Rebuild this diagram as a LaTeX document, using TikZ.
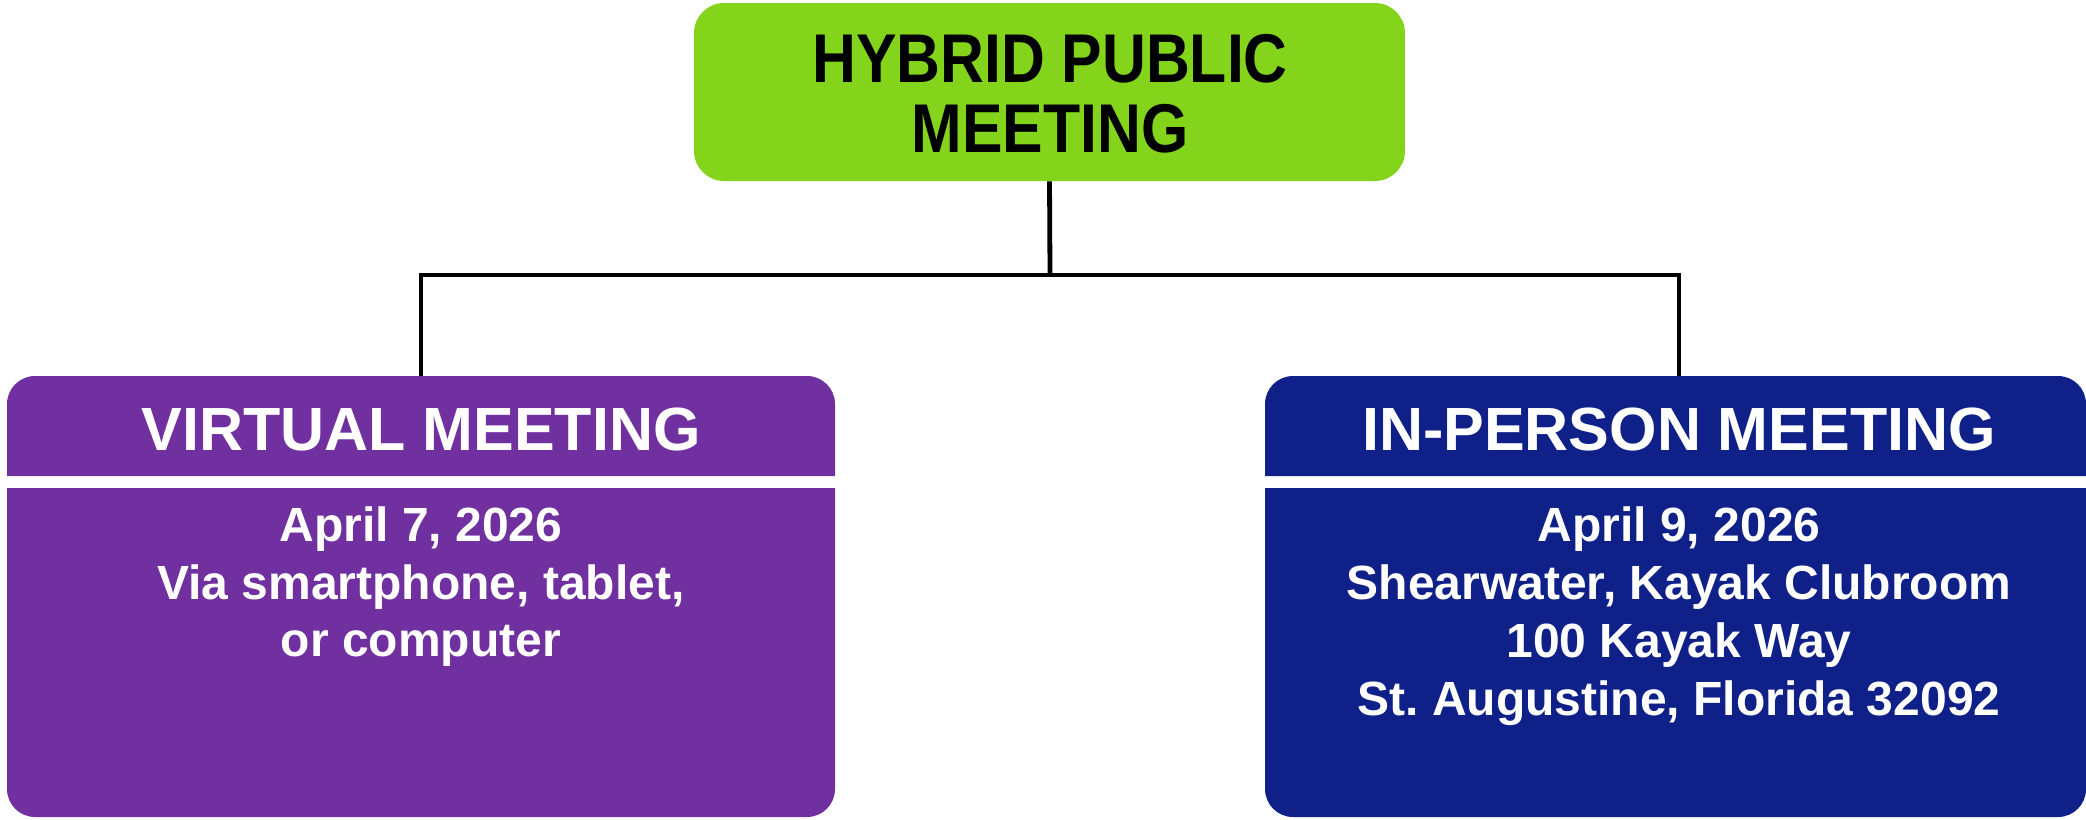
\documentclass[tikz,border=0pt]{standalone}
\usepackage{fontspec}
\setmainfont{Liberation Sans}
\newfontfamily\narrowfont[FakeStretch=0.88]{Liberation Sans}
\definecolor{hybridgreen}{HTML}{83D41B}
\definecolor{virtpurple}{HTML}{7030A0}
\definecolor{inpnavy}{HTML}{0F2189}
\frenchspacing
\begin{document}
\begin{tikzpicture}[x=0.5pt,y=-0.5pt,
  topbox/.style={fill=hybridgreen, rounded corners=15pt, minimum width=355.5pt, minimum height=89pt, inner sep=0pt},
  toptext/.style={anchor=base, inner sep=0pt, font=\narrowfont\bfseries\fontsize{34.5pt}{36pt}\selectfont, text=black},
  headtext/.style={anchor=base, inner sep=0pt, font=\bfseries\fontsize{30.5pt}{32pt}\selectfont, text=white},
  bodytext/.style={anchor=base, inner sep=0pt, font=\bfseries\fontsize{24pt}{26pt}\selectfont, text=white},
  conn/.style={draw=black, line width=2.4pt}
]
\useasboundingbox (0,0) rectangle (2086,819);
% top box
\node[topbox] (hybrid) at (1049.5,92) {};
\node[toptext] (h1) at (1050,82) {HYBRID PUBLIC};
\node[toptext] (h2) at (1050,152) {MEETING};
% left box
\fill[virtpurple] (7,476) [rounded corners=14pt] -- (7,376) -- (835,376) [sharp corners] -- (835,476) -- cycle;
\fill[virtpurple] (7,488) [rounded corners=14pt] -- (7,817) -- (835,817) [sharp corners] -- (835,488) -- cycle;
% right box
\fill[inpnavy] (1265,476) [rounded corners=14pt] -- (1265,376) -- (2086,376) [sharp corners] -- (2086,476) -- cycle;
\fill[inpnavy] (1265,488) [rounded corners=14pt] -- (1265,817) -- (2086,817) [sharp corners] -- (2086,488) -- cycle;
% headers
\node[headtext] (virt) at (421,450) {VIRTUAL MEETING};
\node[headtext] (inp) at (1679,450) {IN-PERSON MEETING};
% body texts
\node[bodytext] (v1) at (421,541) {April 7, 2026};
\node[bodytext] (v2) at (421,599) {Via smartphone, tablet,};
\node[bodytext] (v3) at (421,656) {or computer};
\node[bodytext] (i1) at (1679,541) {April 9, 2026};
\node[bodytext] (i2) at (1679,599) {Shearwater, Kayak Clubroom};
\node[bodytext] (i3) at (1679,657) {100 Kayak Way};
\node[bodytext] (i4) at (1679,715) {St.\ Augustine, Florida 32092};
% connectors
\coordinate (bus) at (1050,275);
\coordinate (vtop) at (421,376);
\coordinate (itop) at (1679,376);
\draw[conn] (hybrid.south) -- (bus);
\draw[conn] (vtop) |- (bus) -| (itop);
\end{tikzpicture}
\end{document}
